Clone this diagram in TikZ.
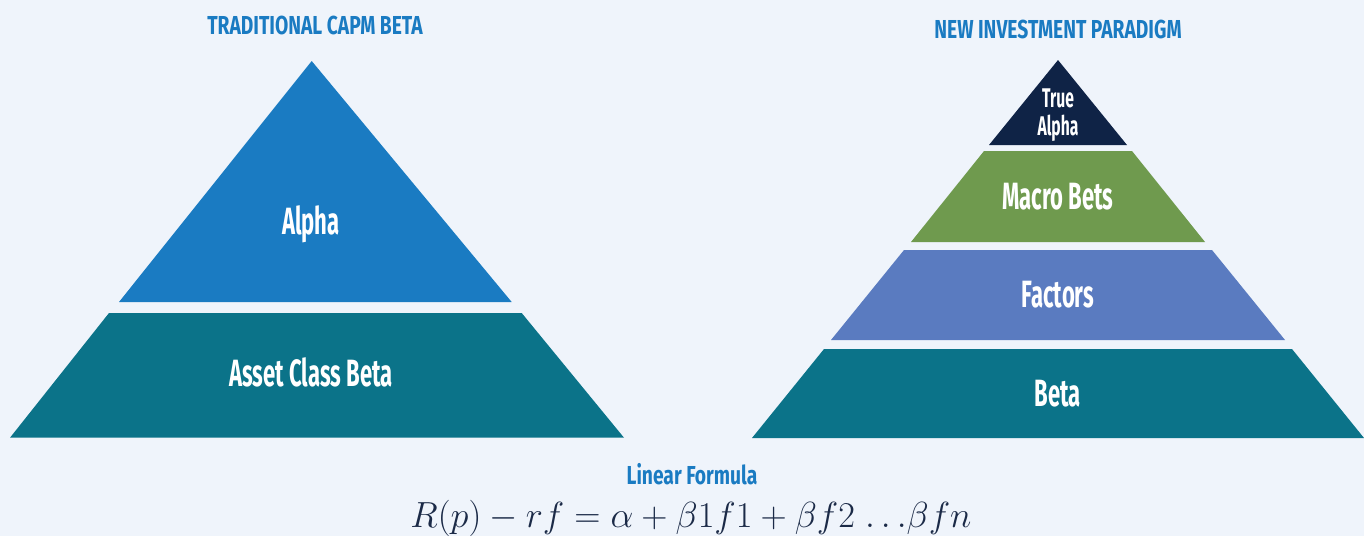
\documentclass[tikz,border=0pt]{standalone}
\usepackage{amsmath,amssymb}
\usepackage{fontspec}
\usepackage{tikz}
\usetikzlibrary{positioning,calc}
\newfontfamily\headfont{Fira Sans}[FakeStretch=0.74]
\newfontfamily\tierfont{Fira Sans}[FakeStretch=0.58]
\definecolor{paper}{HTML}{EFF4FB}
\definecolor{capblue}{HTML}{1A7BC2}
\definecolor{tealbeta}{HTML}{0B7389}
\definecolor{navy}{HTML}{0F2346}
\definecolor{macrogreen}{HTML}{6F9A4E}
\definecolor{factorblue}{HTML}{5A7BC0}
\definecolor{ink}{HTML}{1B2A47}

\begin{document}
\begin{tikzpicture}[
    x=1pt, y=-1pt,
    title/.style={text=capblue, anchor=base, inner sep=0pt,
      font=\headfont\bfseries\fontsize{26}{28}\selectfont},
    tier/.style={text=white, anchor=base, inner sep=0pt,
      font=\tierfont\bfseries\fontsize{38}{40}\selectfont},
    smalltier/.style={tier, font=\tierfont\bfseries\fontsize{27}{29}\selectfont}
  ]
  \fill[paper] (0,0) rectangle (1364,536);
  \useasboundingbox (0,0) rectangle (1364,536);

  % traditional pyramid
  \fill[capblue] (311.7,61) -- (511.7,302) -- (119,302) -- cycle;
  \fill[tealbeta] (109,313) -- (521.7,313) -- (624,437.7) -- (10,437.7) -- cycle;
  \node[title] (capmtitle) at (315,34) {TRADITIONAL CAPM BETA};
  \node[tier] (alpha) at (311,234) {Alpha};
  \node[tier] (assetbeta) at (311,386) {Asset Class Beta};

  % new paradigm pyramid
  \fill[navy] (1058,60) -- (1127,145) -- (989,145) -- cycle;
  \fill[macrogreen] (984,151) -- (1132,151) -- (1205,242) -- (911,242) -- cycle;
  \fill[factorblue] (904,250) -- (1212,250) -- (1285,340) -- (831,340) -- cycle;
  \fill[tealbeta] (824,349) -- (1292,349) -- (1364,438) -- (752,438) -- cycle;
  \node[title] (newtitle) at (1058,38) {NEW INVESTMENT PARADIGM};
  \node[smalltier] (truealpha) at (1058,107) {True};
  \node[smalltier] (truealpha2) at (1058,135) {Alpha};
  \node[tier] (macro) at (1058,209) {Macro Bets};
  \node[tier] (factors) at (1058,307) {Factors};
  \node[tier] (beta) at (1058,406) {Beta};

  % formula
  \node[title] (lintitle) at (692,484) {Linear Formula};
  \node[anchor=base, inner sep=0pt, text=ink, font=\fontsize{24.88}{28}\selectfont] (formula) at (691,527)
    {\scalebox{1.46}{$R(p)-rf=\alpha+\beta1f1+\beta f2\;{\ldots}\beta fn$}};
\end{tikzpicture}
\end{document}
